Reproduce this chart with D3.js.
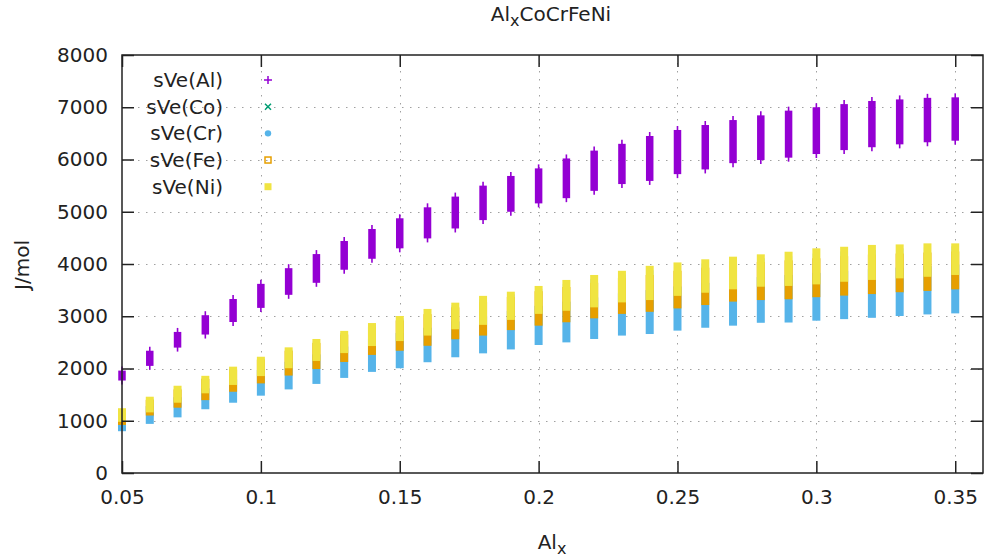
<!DOCTYPE html>
<html>
<head>
<meta charset="utf-8">
<script src="https://cdn.jsdelivr.net/npm/d3@7"></script>
<style>
  html, body { margin: 0; padding: 0; background: #fff; }
  svg text { font-family: "DejaVu Sans", sans-serif; font-size: 20px; fill: #222; }
</style>
</head>
<body>
<svg id="chart" width="989" height="560"></svg>
<script>
// ---- data ----
const alx = [0.05,0.06,0.07,0.08,0.09,0.10,0.11,0.12,0.13,0.14,0.15,0.16,0.17,0.18,0.19,0.20,
             0.21,0.22,0.23,0.24,0.25,0.26,0.27,0.28,0.29,0.30,0.31,0.32,0.33,0.34,0.35];

const alMin = [1770,2050,2400,2650,2890,3160,3410,3640,3890,4100,4300,4490,4680,4840,5000,5160,
               5260,5400,5530,5590,5720,5810,5930,5990,6035,6105,6180,6235,6290,6330,6360];
const alMax = [1960,2340,2700,3020,3330,3620,3920,4190,4440,4670,4875,5085,5290,5500,5685,5830,
               6020,6170,6300,6450,6565,6660,6755,6845,6935,7000,7060,7120,7150,7180,7190];

const coMin = [900,1080,1230,1380,1530,1700,1850,1980,2110,2240,2330,2430,2540,2620,2720,2800,
               2870,2940,3020,3070,3140,3200,3260,3300,3320,3350,3380,3410,3440,3470,3500];
const coMax = [1200,1420,1630,1820,2000,2190,2360,2520,2680,2830,2960,3090,3210,3320,3420,3520,
               3620,3710,3800,3880,3950,4010,4060,4110,4150,4200,4240,4270,4300,4320,4340];

const crMin = [800,940,1065,1220,1345,1480,1600,1705,1820,1935,2005,2120,2215,2290,2365,2450,
               2500,2565,2630,2660,2725,2780,2820,2875,2880,2915,2945,2970,3005,3035,3055];
const crMax = [1100,1280,1450,1620,1790,1970,2130,2270,2420,2560,2680,2780,2900,3000,3100,3200,
               3280,3360,3440,3500,3570,3640,3700,3750,3790,3830,3870,3900,3930,3960,3990];

const feMin = [920,1100,1250,1395,1555,1715,1865,1990,2125,2260,2340,2435,2560,2630,2735,2820,
               2885,2960,3045,3085,3150,3215,3280,3310,3325,3365,3395,3425,3460,3485,3515];
const feMax = [1150,1400,1600,1800,1980,2170,2340,2490,2650,2800,2920,3040,3170,3270,3370,3480,
               3560,3640,3730,3790,3870,3930,3990,4040,4070,4110,4150,4180,4200,4220,4240];

const niMin = [980,1160,1345,1525,1685,1855,2005,2145,2295,2430,2525,2630,2750,2835,2930,3045,
               3105,3170,3265,3310,3390,3450,3515,3565,3580,3610,3660,3695,3725,3755,3790];
const niMax = [1240,1460,1670,1860,2035,2225,2405,2565,2720,2870,3005,3140,3260,3390,3470,3580,
               3695,3790,3870,3965,4030,4090,4140,4185,4235,4300,4330,4365,4375,4395,4395];

const seriesNames = ["sVe(Al)","sVe(Co)","sVe(Cr)","sVe(Fe)","sVe(Ni)"];
const seriesColors = ["#9400d3","#009e73","#56b4e9","#e69f00","#f0e442"];
const xTicks = [0.05,0.1,0.15,0.2,0.25,0.3,0.35];
const yTicks = [0,1000,2000,3000,4000,5000,6000,7000,8000];

// ---- layout ----
const L = 122, R = 983, T = 55, B = 473;
const svg = d3.select("#chart");
const x = d3.scaleLinear().domain([0.05, 0.36]).range([L, R]);
const y = d3.scaleLinear().domain([0, 8000]).range([B, T]);

// grid
const grid = svg.append("g").attr("stroke", "#a0a0a0").attr("stroke-width", 1)
  .attr("stroke-dasharray", "1.5,6.5");
grid.selectAll(".gx").data(xTicks.slice(1)).join("line")
  .attr("x1", d => Math.round(x(d)) + 0.5).attr("x2", d => Math.round(x(d)) + 0.5)
  .attr("y1", T).attr("y2", B);
grid.selectAll(".gy").data(yTicks.slice(1, -1)).join("line")
  .attr("y1", d => Math.round(y(d)) + 0.5).attr("y2", d => Math.round(y(d)) + 0.5)
  .attr("x1", L).attr("x2", R);

// data columns
const idx = d3.range(alx.length);
function columns(minArr, maxArr, color, w) {
  svg.append("g").selectAll("rect").data(idx).join("rect")
    .attr("x", i => x(alx[i]) - w / 2)
    .attr("width", w)
    .attr("y", i => y(maxArr[i]))
    .attr("height", i => y(minArr[i]) - y(maxArr[i]))
    .attr("fill", color);
}
// Al with + caps
columns(alMin, alMax, seriesColors[0], 7.5);
const caps = svg.append("g").attr("stroke", seriesColors[0]).attr("stroke-width", 1.6);
caps.selectAll(".ct").data(idx).join("line")
  .attr("x1", i => x(alx[i])).attr("x2", i => x(alx[i]))
  .attr("y1", i => y(alMax[i]) - 4).attr("y2", i => y(alMin[i]) + 4);
columns(coMin, coMax, seriesColors[1], 7);
columns(crMin, crMax, seriesColors[2], 8);
columns(feMin, feMax, seriesColors[3], 8);
columns(niMin, niMax, seriesColors[4], 8);

// axes (ticks inward, mirrored)
const tickLen = 12;
const axG = svg.append("g");
const axB = axG.append("g").attr("transform", `translate(0,${B})`)
  .call(d3.axisBottom(x).tickValues(xTicks).tickSize(-tickLen).tickPadding(20).tickFormat(d3.format("")));
const axT = axG.append("g").attr("transform", `translate(0,${T})`)
  .call(d3.axisTop(x).tickValues(xTicks).tickSize(-tickLen).tickFormat(""));
const axL = axG.append("g").attr("transform", `translate(${L},0)`)
  .call(d3.axisLeft(y).tickValues(yTicks).tickSize(-tickLen).tickPadding(14).tickFormat(d3.format("d")));
const axR = axG.append("g").attr("transform", `translate(${R},0)`)
  .call(d3.axisRight(y).tickValues(yTicks).tickSize(-tickLen).tickFormat(""));
axG.selectAll(".domain").remove();
axG.selectAll(".tick line").attr("stroke", "#222").attr("stroke-width", 1.5);
axG.selectAll(".tick text").attr("font-family", "DejaVu Sans").attr("font-size", 20).attr("fill", "#222");
axB.selectAll(".tick text").attr("dy", "0.71em").attr("y", 17);

// border
svg.append("rect").attr("x", L).attr("y", T).attr("width", R - L).attr("height", B - T)
  .attr("fill", "none").attr("stroke", "#222").attr("stroke-width", 1.5);

// title
const title = svg.append("text").attr("x", 551).attr("y", 21).attr("text-anchor", "middle");
title.append("tspan").text("Al");
title.append("tspan").attr("font-size", 16).attr("dy", 5).text("x");
title.append("tspan").attr("dy", -5).text("CoCrFeNi");

// axis labels
const xl = svg.append("text").attr("x", 552).attr("y", 549).attr("text-anchor", "middle");
xl.append("tspan").text("Al");
xl.append("tspan").attr("font-size", 16).attr("dy", 5).text("x");

svg.append("text").attr("transform", "translate(29,265) rotate(-90)")
  .attr("text-anchor", "middle").text("J/mol");

// legend
const lg = svg.append("g");
const rowY = d3.scaleLinear().domain([0, 4]).range([80, 186.7]);
seriesNames.forEach((name, i) => {
  const cy = rowY(i);
  lg.append("text").attr("x", 223).attr("y", cy + 7).attr("text-anchor", "end").text(name);
  const mx = 268;
  const c = seriesColors[i];
  if (i === 0) {
    lg.append("path").attr("d", `M${mx-4},${cy}H${mx+4}M${mx},${cy-4}V${cy+4}`)
      .attr("stroke", c).attr("stroke-width", 1.5);
  } else if (i === 1) {
    lg.append("path").attr("d", `M${mx-3},${cy-3}L${mx+3},${cy+3}M${mx-3},${cy+3}L${mx+3},${cy-3}`)
      .attr("stroke", c).attr("stroke-width", 1.5);
  } else if (i === 2) {
    lg.append("circle").attr("cx", mx).attr("cy", cy).attr("r", 3.2).attr("fill", c);
  } else if (i === 3) {
    lg.append("rect").attr("x", mx - 3).attr("y", cy - 3).attr("width", 6).attr("height", 6)
      .attr("fill", "none").attr("stroke", c).attr("stroke-width", 1.5);
  } else {
    lg.append("rect").attr("x", mx - 3.5).attr("y", cy - 3.5).attr("width", 7).attr("height", 7)
      .attr("fill", c);
  }
});
</script>
</body>
</html>
